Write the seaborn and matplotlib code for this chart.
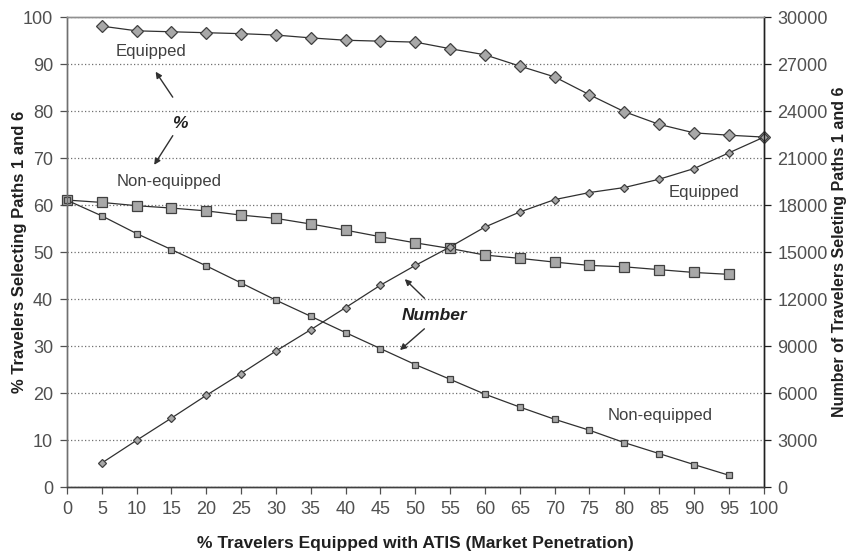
import numpy as np
import pandas as pd
import matplotlib.pyplot as plt
import seaborn as sns

# market penetration (% of travelers equipped with ATIS)
penetration = [0, 5, 10, 15, 20, 25, 30, 35, 40, 45, 50,
               55, 60, 65, 70, 75, 80, 85, 90, 95, 100]

# % of travelers selecting paths 1 and 6 (left axis)
pct_equipped = [None, 98.1, 97.1, 96.9, 96.7, 96.5, 96.2, 95.6, 95.1, 94.9, 94.7,
                93.3, 92.0, 89.6, 87.3, 83.5, 79.9, 77.2, 75.4, 74.9, 74.5]
pct_nonequipped = [61.1, 60.6, 59.9, 59.4, 58.8, 57.9, 57.2, 56.0, 54.7, 53.3, 52.0,
                   50.8, 49.4, 48.7, 47.9, 47.2, 46.9, 46.3, 45.7, 45.3, None]

# number of travelers selecting paths 1 and 6 (right axis)
num_equipped = [None, 1550, 3000, 4420, 5870, 7260, 8700, 10060, 11470, 12900, 14160,
                15340, 16610, 17570, 18360, 18810, 19130, 19660, 20340, 21340, 22340]
num_nonequipped = [18320, 17320, 16190, 15170, 14130, 13040, 11940, 10910, 9870, 8850, 7830,
                   6890, 5940, 5120, 4340, 3640, 2850, 2150, 1450, 770, None]

sns.set_style('white')
plt.rcParams['font.family'] = ['Liberation Sans', 'DejaVu Sans']

df = pd.DataFrame({
    'pen': penetration,
    'pct_eq': pd.array(pct_equipped, dtype='Float64'),
    'pct_ne': pd.array(pct_nonequipped, dtype='Float64'),
    'num_eq': pd.array(num_equipped, dtype='Float64'),
    'num_ne': pd.array(num_nonequipped, dtype='Float64'),
}).astype(float)

fig, ax = plt.subplots(figsize=(8.59, 5.55), dpi=100)
fig.subplots_adjust(left=0.078, right=0.889, top=0.969, bottom=0.122)
ax2 = ax.twinx()

line_kw = dict(color='#303030', linewidth=0.9, markerfacecolor='#a8a8a8',
               markeredgecolor='#404040', markeredgewidth=0.9, clip_on=False)

sns.lineplot(data=df, x='pen', y='pct_eq', ax=ax, marker='D', markersize=6.5, **line_kw)
sns.lineplot(data=df, x='pen', y='pct_ne', ax=ax, marker='s', markersize=7, **line_kw)
sns.lineplot(data=df, x='pen', y='num_eq', ax=ax2, marker='D', markersize=4.5, **line_kw)
sns.lineplot(data=df, x='pen', y='num_ne', ax=ax2, marker='s', markersize=5, **line_kw)

ax.set_xlim(0, 100)
ax.set_ylim(0, 100)
ax2.set_ylim(0, 30000)
ax.set_xticks(range(0, 101, 5))
ax.set_yticks(range(0, 101, 10))
ax2.set_yticks(range(0, 30001, 3000))

ax.yaxis.grid(True, linestyle=(0, (1, 1.8)), color='#707070', linewidth=0.9)
ax.set_axisbelow(True)

for a in (ax, ax2):
    for s in a.spines.values():
        s.set_linewidth(1.0)
    a.spines['top'].set_color('#909090')
    a.spines['left'].set_color('#707070')
    a.spines['bottom'].set_color('#404040')
    a.spines['right'].set_color('#202020')

ax.tick_params(axis='both', direction='out', length=5, width=0.9, color='#505050',
               labelsize=13, labelcolor='#505050', left=True, bottom=True, pad=5)
ax2.tick_params(axis='y', direction='out', length=5, width=0.9, color='#202020',
                labelsize=13, labelcolor='#505050', right=True, pad=5)

ax.set_xlabel('% Travelers Equipped with ATIS (Market Penetration)',
              fontsize=12.5, fontweight='bold', color='#202020', va='center')
ax.set_ylabel('% Travelers Selecting Paths 1 and 6',
              fontsize=12, fontweight='bold', color='#202020', va='center')
ax2.set_ylabel('Number of Travelers Seleting Paths 1 and 6',
               fontsize=11.5, fontweight='bold', color='#202020', va='center')
ax.xaxis.set_label_coords(0.5, -0.119)
ax.yaxis.set_label_coords(-0.068, 0.5)
ax2.yaxis.set_label_coords(1.109, 0.5)

txt = dict(fontsize=12, color='#404040', ha='center', va='center')
ax.text(12.1, 92.8, 'Equipped', **txt)
ax.text(14.6, 65.0, 'Non-equipped', **txt)
ax.text(91.4, 62.8, 'Equipped', **txt)
ax.text(85.1, 15.3, 'Non-equipped', **txt)
ax.text(16.2, 77.4, '%', fontsize=12.5, fontweight='bold', fontstyle='italic',
        ha='center', va='center', color='#202020')
ax.text(52.7, 36.6, 'Number', fontsize=12.5, fontweight='bold', fontstyle='italic',
        ha='center', va='center', color='#202020')

arrow = dict(arrowstyle='-|>', color='#303030', lw=1.0, mutation_scale=9)
ax.annotate('', xy=(12.5, 88.9), xytext=(15.4, 82.5), arrowprops=arrow)
ax.annotate('', xy=(12.3, 68.1), xytext=(15.4, 75.3), arrowprops=arrow)
ax.annotate('', xy=(48.2, 44.7), xytext=(51.6, 39.8), arrowprops=arrow)
ax.annotate('', xy=(47.5, 28.8), xytext=(51.6, 34.1), arrowprops=arrow)

fig.savefig('out.png', dpi=100)
